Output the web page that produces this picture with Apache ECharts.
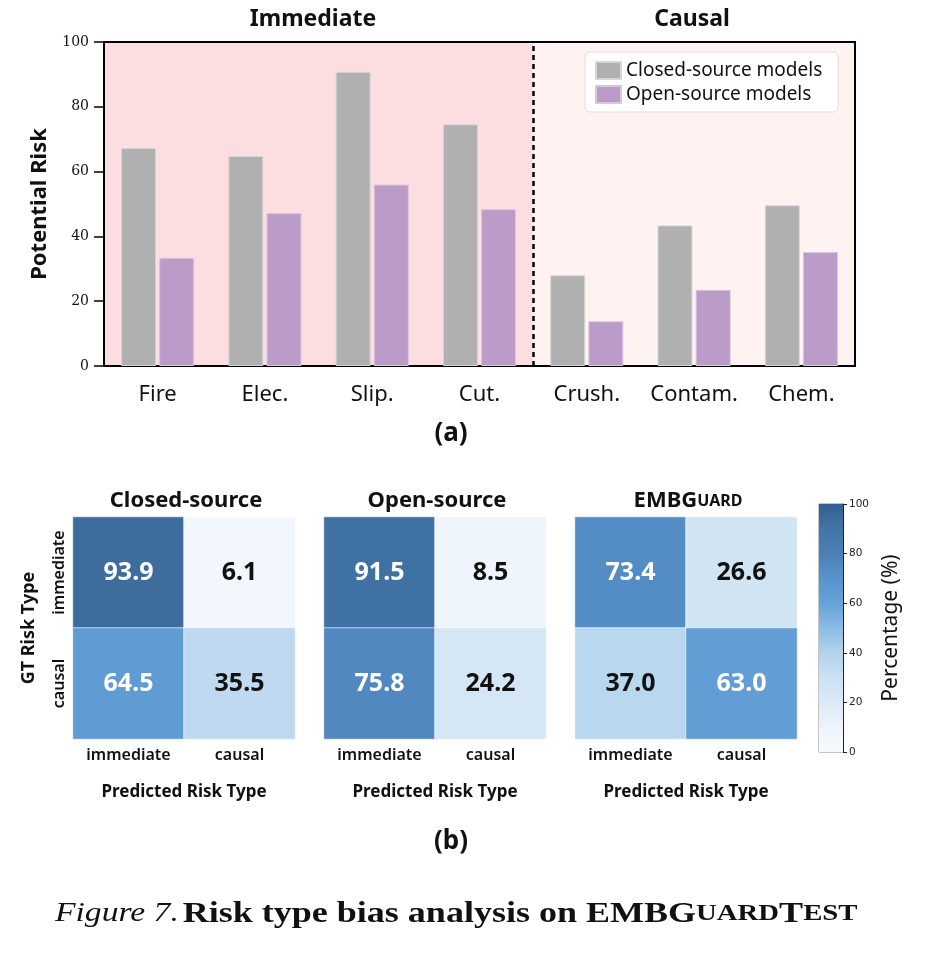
<!DOCTYPE html>
<html>
<head>
<meta charset="utf-8">
<script src="https://cdn.jsdelivr.net/npm/echarts@6/dist/echarts.min.js"></script>
<style>
  html, body { margin: 0; padding: 0; background: #fff; }
  #fig { width: 932px; height: 956px; }
</style>
</head>
<body>
<div id="fig"></div>
<script>
/** 风险类型 (a) 柱状图 + (b) 混淆矩阵 */
var riskCats = ['Fire', 'Elec.', 'Slip.', 'Cut.', 'Crush.', 'Contam.', 'Chem.'];
var groupNames = ['Immediate', 'Causal'];
var groupSizes = [4, 3];
var closedVals = [67.3, 64.8, 90.8, 74.6, 28.0, 43.4, 49.6];
var openVals = [33.4, 47.2, 56.0, 48.4, 13.8, 23.5, 35.2];
var riskTicks = [0, 100, 20];   // min, max, interval

var predTypes = ['immediate', 'causal'];
var gtTypes = ['immediate', 'causal'];
var heatTitles = ['Closed-source', 'Open-source', '{big|EMBG}{small|UARD}'];
var closedMatrix = [[93.9, 6.1], [64.5, 35.5]];
var openMatrix = [[91.5, 8.5], [75.8, 24.2]];
var guardMatrix = [[73.4, 26.6], [37.0, 63.0]];
var pctTicks = [0, 100, 20];

var blues = ['#f7fbff', '#edf4fb', '#dceaf7', '#cbe1f3', '#b3d2ee', '#8bbbe4',
             '#66a3d9', '#5893cd', '#4c80b6', '#4274a7', '#345f8e'];

var SANS = 'Noto Sans';
var fig = echarts.init(document.getElementById('fig'));

function heatData(m) {
  var out = [];
  for (var r = 0; r < m.length; r++) {
    for (var c = 0; c < m[r].length; c++) {
      out.push({
        value: [c, r, m[r][c]],
        label: { color: m[r][c] > 50 ? '#ffffff' : '#111111' }
      });
    }
  }
  return out;
}

var heatGrids = [
  { left: 73, top: 517, width: 222, height: 222 },
  { left: 324, top: 517, width: 222, height: 222 },
  { left: 575, top: 517, width: 222, height: 222 }
];
var matrices = [closedMatrix, openMatrix, guardMatrix];

var split = groupSizes[0];
var total = riskCats.length;

var grids = [{ left: 104, top: 42, width: 751, height: 324, show: true,
  borderColor: '#000', borderWidth: 2, backgroundColor: 'transparent' }];
var xAxes = [
  { type: 'category', gridIndex: 0, data: riskCats,
    axisTick: { show: false },
    axisLine: { lineStyle: { color: '#000', width: 2 } },
    axisLabel: { interval: 0, fontFamily: SANS, fontSize: 22, color: '#111', margin: 18 } },
  { type: 'value', gridIndex: 0, min: 0, max: total, show: false }
];
var yAxes = [
  { type: 'value', gridIndex: 0, min: riskTicks[0], max: riskTicks[1], interval: riskTicks[2],
    name: 'Potential Risk', nameLocation: 'middle', nameGap: 53,
    nameTextStyle: { fontFamily: SANS, fontSize: 22, fontWeight: 'bold', color: '#111' },
    splitLine: { show: false },
    axisLine: { show: true, lineStyle: { color: '#000', width: 2 } },
    axisTick: { show: true, length: 10, lineStyle: { color: '#000', width: 1.5 } },
    axisLabel: { fontFamily: 'DejaVu Serif', fontSize: 14, color: '#111', margin: 15 } }
];

var series = [
  { type: 'line', xAxisIndex: 1, yAxisIndex: 0, data: [], silent: true, z: -1,
    markArea: { silent: true, z: -1, data: [
      [{ xAxis: 0, itemStyle: { color: '#fddee0' } }, { xAxis: split }],
      [{ xAxis: split, itemStyle: { color: '#fff3f1' } }, { xAxis: total }]
    ] },
    markLine: { silent: true, symbol: 'none', label: { show: false },
      lineStyle: { color: '#000', width: 2.5, type: [5, 4] },
      data: [{ xAxis: split }] } },
  { name: 'Closed-source models', type: 'bar', xAxisIndex: 0, yAxisIndex: 0,
    data: closedVals, barWidth: 35, barGap: '9%',
    itemStyle: { color: '#b0b0b0', borderColor: '#d6d6d6', borderWidth: 1 } },
  { name: 'Open-source models', type: 'bar', xAxisIndex: 0, yAxisIndex: 0,
    data: openVals, barWidth: 35,
    itemStyle: { color: '#bb9bc8', borderColor: '#d9c6e0', borderWidth: 1 } }
];

heatGrids.forEach(function (g, i) {
  grids.push(g);
  xAxes.push({ type: 'category', gridIndex: i + 1, data: predTypes,
    name: 'Predicted Risk Type', nameLocation: 'middle', nameGap: 45,
    nameTextStyle: { fontFamily: SANS, fontSize: 17, fontWeight: 'bold', color: '#111' },
    axisLine: { show: false }, axisTick: { show: false }, splitArea: { show: false },
    axisLabel: { interval: 0, fontFamily: SANS, fontSize: 16, fontWeight: 600, color: '#111', margin: 8 } });
  yAxes.push({ type: 'category', gridIndex: i + 1, data: gtTypes, inverse: true,
    name: i === 0 ? 'GT Risk Type' : '', nameLocation: 'middle', nameGap: 35,
    nameTextStyle: { fontFamily: SANS, fontSize: 18, fontWeight: 'bold', color: '#111' },
    axisLine: { show: false }, axisTick: { show: false },
    axisLabel: { show: i === 0, interval: 0, rotate: 90, fontFamily: SANS, fontSize: 16,
      fontWeight: 600, color: '#111', margin: 6 } });
  series.push({ type: 'heatmap', xAxisIndex: i + 2, yAxisIndex: i + 1,
    data: heatData(matrices[i]),
    itemStyle: { borderColor: 'rgba(255,255,255,0.6)', borderWidth: 1 },
    label: { show: true, fontFamily: SANS, fontSize: 25, fontWeight: 'bold',
      formatter: function (p) { return p.value[2].toFixed(1); } },
    emphasis: { disabled: true } });
});

// colorbar
grids.push({ left: 819, top: 504, width: 24, height: 248, show: true,
  borderColor: '#888', borderWidth: 1 });
xAxes.push({ type: 'category', gridIndex: 4, data: ['pct'], show: false });
yAxes.push({ type: 'value', gridIndex: 4, position: 'right',
  min: pctTicks[0], max: pctTicks[1], interval: pctTicks[2],
  name: 'Percentage (%)', nameLocation: 'middle', nameGap: 38,
  nameTextStyle: { fontFamily: SANS, fontSize: 21, color: '#111' },
  splitLine: { show: false },
  axisLine: { show: true, lineStyle: { color: '#222', width: 1 } },
  axisTick: { show: true, length: 4, lineStyle: { color: '#222' } },
  axisLabel: { fontFamily: 'DejaVu Sans', fontSize: 10.5, color: '#222', margin: 6 } });
series.push({ type: 'bar', xAxisIndex: 5, yAxisIndex: 4, data: [pctTicks[1]],
  barWidth: '100%', silent: true,
  itemStyle: { color: { type: 'linear', x: 0, y: 0, x2: 0, y2: 1,
    colorStops: blues.map(function (c, k) {
      return { offset: 1 - k / (blues.length - 1), color: c };
    }) } } });

var titleStyle = { fontFamily: SANS, fontSize: 23, fontWeight: 'bold', color: '#111' };
var titles = [
  { text: groupNames[0], left: 308, top: 3, textAlign: 'center', textStyle: titleStyle },
  { text: groupNames[1], left: 687, top: 3, textAlign: 'center', textStyle: titleStyle },
  { text: '(a)', left: 446, top: 416, textAlign: 'center',
    textStyle: { fontFamily: SANS, fontSize: 26, fontWeight: 'bold', color: '#111' } },
  { text: '(b)', left: 446, top: 824, textAlign: 'center',
    textStyle: { fontFamily: SANS, fontSize: 26, fontWeight: 'bold', color: '#111' } }
];
heatGrids.forEach(function (g, i) {
  titles.push({ text: heatTitles[i], left: g.left + g.width / 2 - 3, top: 485, textAlign: 'center',
    textStyle: { fontFamily: SANS, fontSize: 22, fontWeight: 'bold', color: '#111',
      rich: {
        big: { fontFamily: SANS, fontSize: 22, fontWeight: 'bold', color: '#111' },
        small: { fontFamily: SANS, fontSize: 16, fontWeight: 'bold', color: '#111' }
      } } });
});

var option = {
  animation: false,
  title: titles,
  graphic: [{
    type: 'text', x: 55, y: 899, scaleX: 1.2, silent: true,
    style: {
      text: '{i|Figure 7.} {b|Risk type bias analysis on EMBG}{s|UARD}{b|T}{s|EST}',
      rich: {
        i: { fontFamily: 'Liberation Serif', fontSize: 28, fontStyle: 'italic', fill: '#111' },
        b: { fontFamily: 'Liberation Serif', fontSize: 30, fontWeight: 'bold', fill: '#111' },
        s: { fontFamily: 'Liberation Serif', fontSize: 24, fontWeight: 'bold', fill: '#111' }
      }
    }
  }],
  legend: {
    orient: 'vertical', left: 585, top: 52, icon: 'rect',
    data: ['Closed-source models', 'Open-source models'],
    itemWidth: 25, itemHeight: 17, itemGap: 5,
    padding: [9, 16, 8, 10],
    backgroundColor: '#ffffff', borderColor: '#dddddd', borderWidth: 1, borderRadius: 5,
    textStyle: { fontFamily: SANS, fontSize: 19, color: '#111' }
  },
  visualMap: {
    show: false, min: pctTicks[0], max: pctTicks[1], seriesIndex: [3, 4, 5],
    dimension: 2, inRange: { color: blues }
  },
  grid: grids,
  xAxis: xAxes,
  yAxis: yAxes,
  series: series
};

fig.setOption(option);
</script>
</body>
</html>
